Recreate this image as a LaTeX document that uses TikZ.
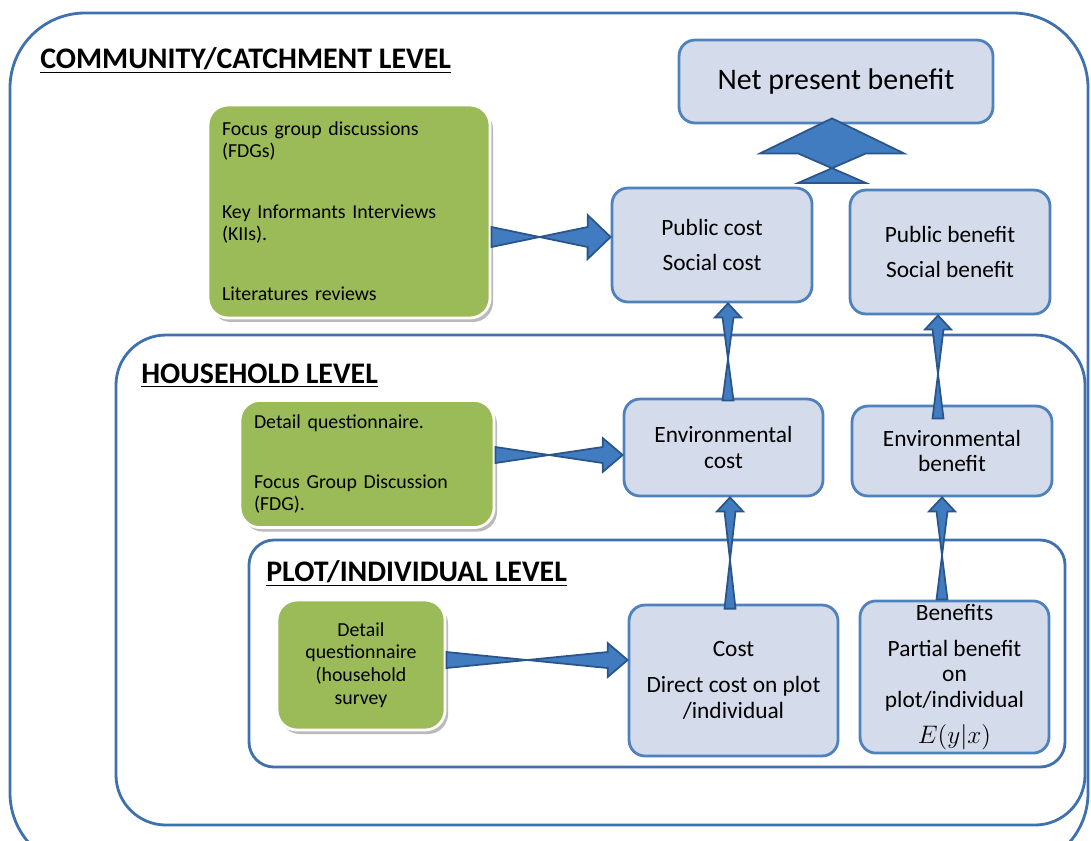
\documentclass[tikz,border=0pt]{standalone}
\usepackage{fontspec}
\setmainfont{Carlito}
\usetikzlibrary{calc,shadows}

\definecolor{boxfill}{RGB}{212,219,234}
\definecolor{boxline}{RGB}{79,129,189}
\definecolor{levelline}{RGB}{62,113,173}
\definecolor{greenfill}{RGB}{155,187,89}
\definecolor{arrowfill}{RGB}{66,124,192}
\definecolor{arrowline}{RGB}{42,85,138}

\tikzset{
  level/.style={draw=levelline, line width=1.6pt},
  levellabel/.style={anchor=west, inner sep=0pt, font=\fontsize{17}{20}\selectfont\bfseries},
  costbox/.style={draw=boxline, fill=boxfill, line width=1.6pt, rounded corners=0.32cm,
    align=center, inner sep=2pt, font=\fontsize{13.3}{14.7}\selectfont},
  methbox/.style={draw=white, fill=greenfill, line width=1.6pt, rounded corners=0.4cm,
    inner sep=8pt, drop shadow={shadow xshift=0.6mm, shadow yshift=-0.8mm, fill=black!45, opacity=0.6},
    font=\fontsize{11.3}{12.5}\selectfont},
  % block arrow: half shaft width, half head width, head length
  blockarrow/.style n args={3}{draw=arrowline, fill=arrowfill, line width=1pt, line join=miter,
    to path={($(\tikztostart)!#1!90:(\tikztotarget)$)
      -- ($(\tikztotarget)!#3!(\tikztostart)!#1!-90:(\tikztotarget)$)
      -- ($(\tikztotarget)!#3!(\tikztostart)!#2!-90:(\tikztotarget)$)
      -- (\tikztotarget)
      -- ($(\tikztotarget)!#3!(\tikztostart)!#2!90:(\tikztotarget)$)
      -- ($(\tikztotarget)!#3!(\tikztostart)!#1!90:(\tikztotarget)$)
      -- ($(\tikztostart)!#1!-90:(\tikztotarget)$) -- cycle}},
  uparrow/.style={blockarrow={0.11cm}{0.26cm}{0.28cm}},
  sidearrow/.style={blockarrow={0.16cm}{0.34cm}{0.4cm}}
}

\begin{document}
\begin{tikzpicture}[x=0.02cm, y=-0.02cm]
\useasboundingbox (0,0) rectangle (1091,840);
\clip (0,0) rectangle (1091,840);

% Levels
\draw[level, rounded corners=1.5cm] (10,13) rectangle (1088,868);
\draw[level, rounded corners=1cm] (116,335) rectangle (1085,825);
\draw[level, rounded corners=0.5cm] (249,540) rectangle (1065,767);

\node[levellabel] (commlabel) at (40,60) {\underline{COMMUNITY/CATCHMENT LEVEL}};
\node[levellabel] (hhlabel) at (141,376) {\underline{HOUSEHOLD LEVEL}};
\node[levellabel] (plotlabel) at (266,573) {\underline{PLOT/INDIVIDUAL LEVEL}};

% Cost and benefit boxes
\node[costbox, minimum width=6.28cm, minimum height=1.66cm, font=\fontsize{17}{20}\selectfont] (net) at (836,81.5) {Net present benefit};
\node[costbox, minimum width=4cm, minimum height=2.28cm] (pubcost) at (712,245) {Public cost\\[5pt]Social cost};
\node[costbox, minimum width=4cm, minimum height=2.48cm] (pubben) at (950,252) {Public benefit\\[5pt]Social benefit};
\node[costbox, minimum width=3.98cm, minimum height=1.94cm] (envcost) at (723.5,447.5) {Environmental\\cost};
\node[costbox, minimum width=4cm, minimum height=1.8cm] (envben) at (952,451) {Environmental\\benefit};
\node[costbox, minimum width=4.18cm, minimum height=3.02cm] (cost) at (733.5,680.5) {Cost\\[5.5pt]Direct cost on plot\\/individual};
\node[costbox, minimum width=3.78cm, minimum height=3.02cm] (benefit) at (954.5,677) {Benefits\\[5.5pt]Partial benefit\\on\\plot/individual\\[5.5pt]$E(y|x)$};

% Data collection methods
\node[methbox, text width=5.08cm, minimum height=4.26cm, align=left] (methcomm) at (349,211.5)
  {Focus group discussions\\(FDGs)\\[22pt]Key Informants Interviews\\(KIIs).\\[22pt]Literatures reviews};
\node[methbox, text width=4.52cm, minimum height=2.44cm, align=left] (methhh) at (367,464)
  {Detail questionnaire.\\[22pt]Focus Group Discussion\\(FDG).};
\node[methbox, text width=2.8cm, minimum height=2.6cm, align=center, font=\fontsize{11.3}{13}\selectfont] (methplot) at (361,665)
  {Detail\\questionnaire\\(household\\survey};

% Arrows
\draw[blockarrow={0.2cm}{0.44cm}{0.46cm}] ([yshift=-0.51cm]methcomm.east) to ([yshift=0.16cm]pubcost.west);
\draw[sidearrow] ([yshift=0.18cm]methhh.east) to ([yshift=-0.15cm]envcost.west);
\draw[sidearrow] ([yshift=0.1cm]methplot.east) to ([yshift=0.41cm]cost.west);

\draw[uparrow] ([xshift=0.09cm, yshift=-0.06cm]envcost.north) to ([xshift=0.32cm]pubcost.south);
\draw[uparrow] ([xshift=-0.28cm, yshift=-0.28cm]envben.north) to ([xshift=-0.24cm]pubben.south);
\draw[uparrow] ([xshift=-0.07cm, yshift=-0.1cm]cost.north) to ([xshift=0.13cm]envcost.south);
\draw[uparrow] ([xshift=-0.25cm]benefit.north) to ([xshift=-0.2cm]envben.south);

\coordinate (netbase) at (832,183);
\draw[blockarrow={0.68cm}{1.44cm}{0.7cm}] (netbase) to ([xshift=-0.08cm, yshift=0.12cm]net.south);

\end{tikzpicture}
\end{document}
